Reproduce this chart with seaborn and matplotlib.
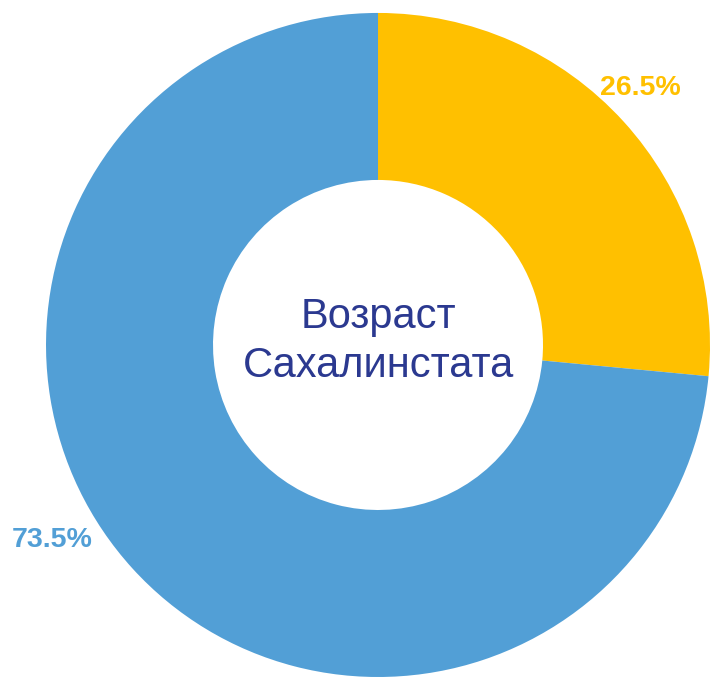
import matplotlib
matplotlib.use("Agg")
import matplotlib.pyplot as plt
import seaborn as sns

# share of staff by age (values from the chart)
categories = ["Группа 1", "Группа 2"]
shares = [26.5, 73.5]
pct_labels = ["26.5%", "73.5%"]
center_title = "Возраст\nСахалинстата"

sns.set_theme(style="white")
plt.rcParams['font.family'] = ['Liberation Sans', 'DejaVu Sans']

colors = sns.color_palette(["#FFC000", "#529FD6"])

fig = plt.figure(figsize=(7.1, 6.78), dpi=100)
ax = fig.add_axes([0, 0, 1, 1])

ax.pie(shares, colors=colors, startangle=90, counterclock=False,
       radius=1.0, wedgeprops=dict(width=0.503, linewidth=0))

# label positions (data coords around the ring)
label_pos = [(0.789, 0.774), (-0.982, -0.587)]
for txt, (x, y), c in zip(pct_labels, label_pos, colors):
    ax.text(x, y, txt, color=c, fontsize=20.5, fontweight='bold',
            ha='center', va='center')

ax.text(0, 0.01, center_title, color="#2B3990", fontsize=30,
        ha='center', va='center', linespacing=1.3)

ax.set_xlim(-1.1386, 1.0)
ax.set_ylim(-1.003, 1.039)
ax.set_aspect('auto')
ax.axis('off')

fig.savefig("out.png", dpi=100)
plt.close(fig)
